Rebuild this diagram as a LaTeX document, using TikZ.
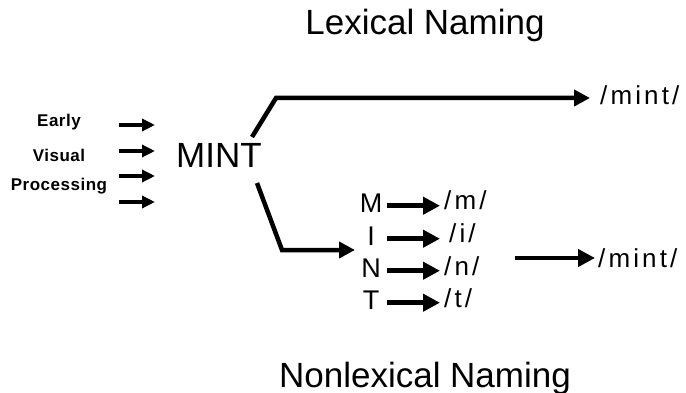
\documentclass[tikz,border=0pt]{standalone}
\usepackage{fontspec}
\setmainfont{Liberation Sans}
\newfontfamily\lblfont[LetterSpace=3]{Liberation Sans}
\newfontfamily\phfont[LetterSpace=12]{Liberation Sans}
\usetikzlibrary{arrows.meta}
\begin{document}
\begin{tikzpicture}[x=1pt,y=-1pt,
  every node/.style={inner sep=0pt},
  title/.style={anchor=base, font=\fontsize{35}{35}\selectfont},
  lbl/.style={anchor=base, font=\lblfont\bfseries\fontsize{17}{17}\selectfont},
  letter/.style={anchor=base, minimum width=22pt, font=\fontsize{27}{27}\selectfont},
  ph/.style={anchor=base west, font=\phfont\fontsize{26}{26}\selectfont},
  smallarr/.style={line width=4pt, -{Triangle[length=13pt,width=12pt]}},
  midarr/.style={line width=4.5pt, -{Triangle[length=17pt,width=17pt]}},
  bigarr/.style={line width=4.5pt, line join=miter, -{Triangle[length=16pt,width=16pt]}}
]
\useasboundingbox (0,0) rectangle (686,393);

% titles
\node[title] (lex) at (425,35) {Lexical Naming};
\node[title] (nonlex) at (425,387) {Nonlexical Naming};

% left labels
\node[lbl] (early) at (59,127) {Early};
\node[lbl] (visual) at (59,162) {Visual};
\node[lbl] (proc) at (59,190) {Processing};

% MINT
\node[anchor=base west, font=\fontsize{35}{35}\selectfont] (mint) at (176,168) {MINT};

% input arrows
\coordinate (a1) at (119,125);
\coordinate (a2) at (119,151);
\coordinate (a3) at (119,176);
\coordinate (a4) at (119,202);
\foreach \a in {a1,a2,a3,a4}
  \draw[smallarr] (\a) -- (\a -| mint.west) [shorten >=21pt];

% lexical route
\node[ph] (umint) at (600,105) {/mint/};
\coordinate (u0) at (252,137);
\coordinate (u1) at (276,98);
\draw[bigarr, shorten >=10pt] (u0) -- (u1) -- (u1 -| umint.west);

% letters
\node[letter] (M) at (371,212) {M};
\node[letter] (I) at (371,245) {I};
\node[letter] (N) at (371,277) {N};
\node[letter] (T) at (371,309) {T};

% nonlexical route
\coordinate (l0) at (257,183);
\coordinate (l1) at (282,250);
\coordinate (l2) at (355,250);
\draw[bigarr] (l0) -- (l1) -- (l2);

% phonemes
\node[ph] (pm) at (444,210) {/m/};
\node[ph] (pi) at (449,243) {/i/};
\node[ph] (pn) at (444,275) {/n/};
\node[ph] (pt) at (444,307) {/t/};

\coordinate (tipx) at (440,0);
\foreach \L in {M,I,N,T}
  \draw[midarr] ([xshift=5pt,yshift=-3pt]\L.east) -- ([yshift=-3pt]\L.east -| tipx);

% assembled output
\node[ph] (lmint) at (598,267) {/mint/};
\coordinate (r0) at (515,258);
\draw[midarr, shorten >=3pt] (r0) -- (r0 -| lmint.west);
\end{tikzpicture}
\end{document}
